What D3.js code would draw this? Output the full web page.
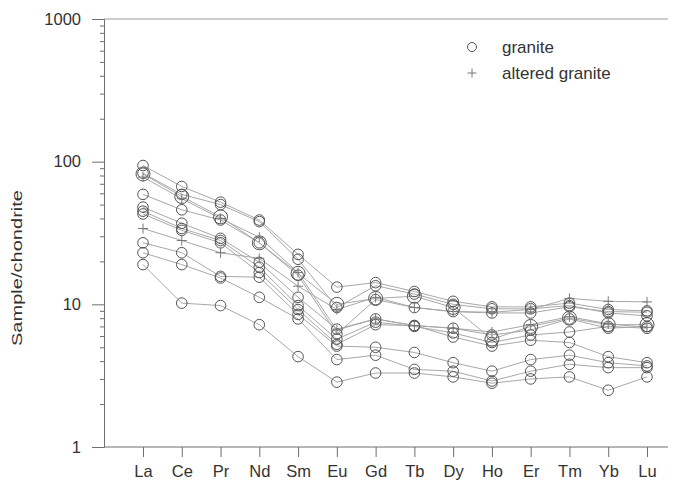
<!DOCTYPE html>
<html>
<head>
<meta charset="utf-8">
<script src="https://cdn.jsdelivr.net/npm/d3@7"></script>
<style>
  body { margin: 0; background: #fff; }
  text { font-family: "Liberation Sans", Arial, sans-serif; fill: #333; }
</style>
</head>
<body>
<div id="chart"></div>
<script>
// REE categories
var elements = ["La","Ce","Pr","Nd","Sm","Eu","Gd","Tb","Dy","Ho","Er","Tm","Yb","Lu"];

// granite samples (chondrite normalised)
var g1 = [94, 67, 52, 39, 22.4, 13.2, 14.2, 12.3, 10.5, 9.6, 9.6, 10.2, 9.2, 9.0],
    g2 = [83, 59, 50, 38, 20.7, 9.5, 13.5, 11.8, 10.0, 9.3, 9.3, 9.8, 8.7, 8.3],
    g3 = [82, 57, 41, 27, 16.5, 10.0, 11.0, 11.4, 9.5, 5.7, 7.0, 8.0, 7.2, 7.2],
    g4 = [59, 46, 39, 27, 16, 6.2, 10.8, 9.5, 8.9, 8.7, 8.7, 9.6, 8.9, 8.8],
    g5 = [48, 37, 29, 19.7, 11.2, 6.7, 7.9, 7.1, 6.8, 6.1, 6.6, 7.9, 6.8, 7.0],
    g6 = [45, 34, 28, 18.2, 9.8, 5.7, 7.5, 7.0, 6.3, 5.4, 6.1, 6.4, 7.0, 6.8],
    g7 = [43, 33, 27, 16.7, 9.2, 5.25, 7.2, 7.1, 5.9, 5.1, 5.6, 5.4, 4.3, 3.9],
    g8 = [27, 23, 15.7, 15.5, 8.5, 5.1, 5.0, 4.6, 3.9, 3.4, 4.1, 4.4, 3.9, 3.7],
    g9 = [23, 19, 15.3, 11.2, 7.9, 4.1, 4.4, 3.5, 3.4, 2.9, 3.4, 3.8, 3.6, 3.6],
    g10 = [19, 10.2, 9.8, 7.2, 4.3, 2.85, 3.3, 3.3, 3.1, 2.8, 3.0, 3.1, 2.5, 3.1];

// altered granite samples
var a1 = [34, 28, 23, 21, 13.4, 9.2, 11.2, 9.5, 8.9, 8.8, 9.2, 11, 10.5, 10.4],
    a2 = [78, 55, 40, 29.5, 16.7, 6.6, 7.9, 7.1, 6.8, 6.4, 7.2, 8.2, 7.3, 6.9];

var granite = [g1, g2, g3, g4, g5, g6, g7, g8, g9, g10],
    altered = [a1, a2];

// y ticks
var majorTicks = [1, 10, 100, 1000],
    minorTicks = [2,3,4,5,6,7,8,9,20,30,40,50,60,70,80,90,200,300,400,500,600,700,800,900];

var width = 678, height = 486;
var plot = {left: 104, right: 668, top: 19, bottom: 447};

var svg = d3.select('#chart').append('svg')
    .attr('width', width)
    .attr('height', height);

// scales
var x = d3.scalePoint().domain(elements).range([143, 647]),
    y = d3.scaleLog().domain([1, 1000]).range([plot.bottom, plot.top]);

var axisColor = '#6e6e6e';

// top frame line
svg.append('line')
    .attr('x1', plot.left).attr('x2', plot.right)
    .attr('y1', plot.top).attr('y2', plot.top)
    .attr('stroke', '#999');

// y axis
var yAxis = svg.append('g')
    .attr('transform', 'translate(' + plot.left + ',0)')
    .call(d3.axisLeft(y).tickValues(majorTicks).tickSize(12).tickPadding(11).tickFormat(d3.format('d')));
yAxis.select('.domain').attr('stroke', axisColor);
yAxis.selectAll('.tick line').attr('stroke', axisColor);
yAxis.selectAll('text').style('font-size', '16.5px').attr('fill', '#333');

var yMinor = svg.append('g')
    .attr('transform', 'translate(' + plot.left + ',0)')
    .call(d3.axisLeft(y).tickValues(minorTicks).tickSize(4).tickFormat(''));
yMinor.select('.domain').remove();
yMinor.selectAll('.tick line').attr('stroke', axisColor);

// x axis
var xAxis = svg.append('g')
    .attr('transform', 'translate(0,' + plot.bottom + ')')
    .call(d3.axisBottom(x).tickSize(10).tickPadding(8));
xAxis.select('.domain').remove();
xAxis.selectAll('.tick line').attr('stroke', axisColor);
xAxis.selectAll('text').style('font-size', '16.5px').attr('fill', '#333');
svg.append('line')
    .attr('x1', plot.left).attr('x2', plot.right)
    .attr('y1', plot.bottom).attr('y2', plot.bottom)
    .attr('stroke', axisColor);

// y label
svg.append('text')
    .attr('transform', 'translate(22,268) rotate(-90)')
    .attr('text-anchor', 'middle')
    .attr('textLength', 156)
    .attr('lengthAdjust', 'spacingAndGlyphs')
    .style('font-size', '14px')
    .text('Sample/chondrite');

// lines
var line = d3.line()
    .x(function(d, i) { return x(elements[i]); })
    .y(function(d) { return y(d); });

svg.append('g').selectAll('path')
    .data(granite.concat(altered))
    .enter().append('path')
    .attr('d', line)
    .attr('fill', 'none')
    .attr('stroke', '#a8a8a8')
    .attr('stroke-width', 1);

// granite markers (g3 drawn with a larger circle)
granite.forEach(function(s) {
  svg.append('g').selectAll('circle')
    .data(s)
    .enter().append('circle')
    .attr('cx', function(d, i) { return x(elements[i]); })
    .attr('cy', function(d) { return y(d); })
    .attr('r', s === g3 ? 7 : 5.3)
    .attr('fill', 'none')
    .attr('stroke', '#555')
    .attr('stroke-width', 1);
});

// altered granite markers
altered.forEach(function(s) {
  svg.append('g').selectAll('path')
    .data(s)
    .enter().append('path')
    .attr('d', 'M-5,0H5M0,-5V5')
    .attr('transform', function(d, i) { return 'translate(' + x(elements[i]) + ',' + y(d) + ')'; })
    .attr('fill', 'none')
    .attr('stroke', '#777')
    .attr('stroke-width', 1);
});

// legend
var legend = svg.append('g');
legend.append('circle')
    .attr('cx', 472).attr('cy', 47).attr('r', 4.5)
    .attr('fill', 'none').attr('stroke', '#555');
legend.append('path')
    .attr('d', 'M-4.5,0H4.5M0,-4.5V4.5')
    .attr('transform', 'translate(472,73)')
    .attr('stroke', '#777').attr('fill', 'none');
legend.append('text')
    .attr('x', 502).attr('y', 53)
    .style('font-size', '17px')
    .text('granite');
legend.append('text')
    .attr('x', 502).attr('y', 79)
    .style('font-size', '17px')
    .text('altered granite');
</script>
</body>
</html>
